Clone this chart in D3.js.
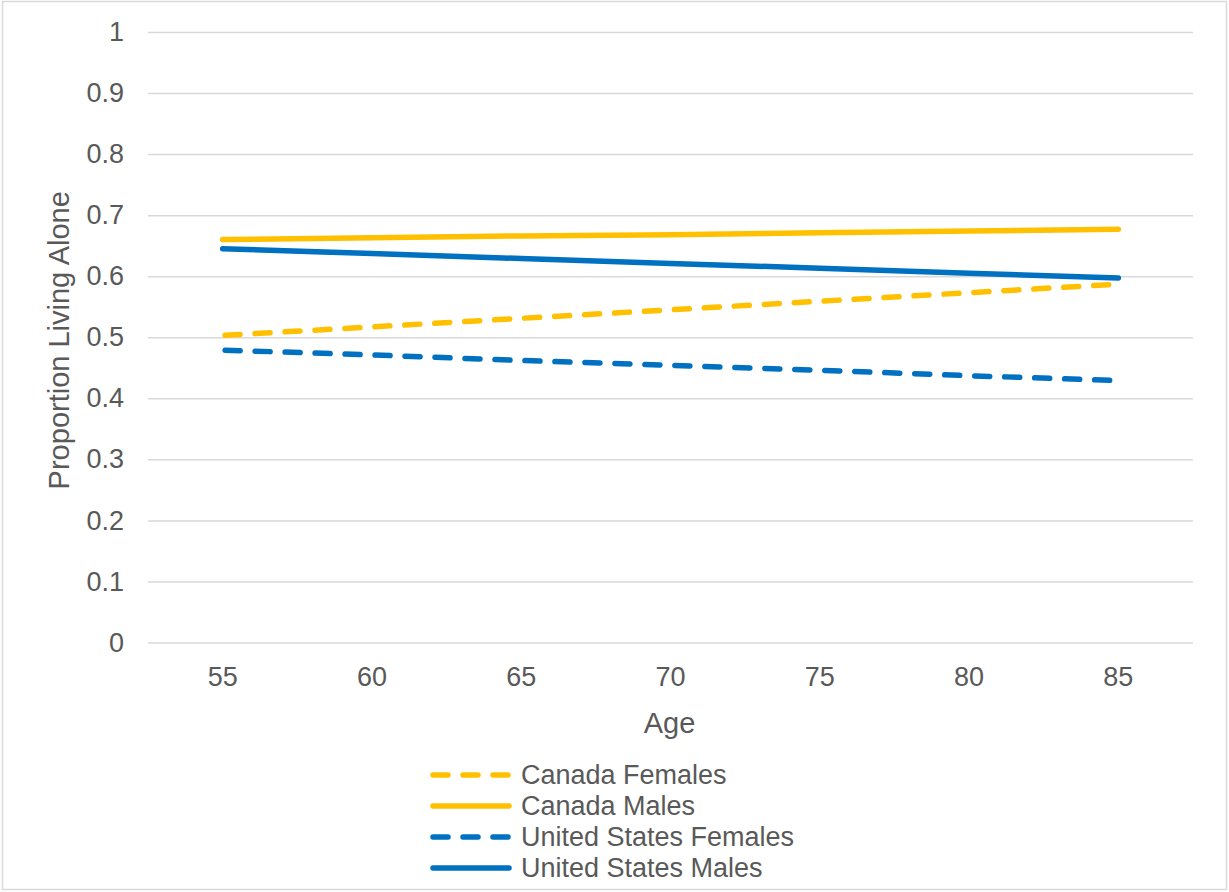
<!DOCTYPE html>
<html><head><meta charset="utf-8">
<script src="https://cdn.jsdelivr.net/npm/d3@7"></script>
<style>
html,body{margin:0;padding:0;background:#fff;}
svg text{font-family:"Liberation Sans",Arial,sans-serif;fill:#595959;}
</style></head>
<body>
<svg id="chart" width="1229" height="892"></svg>
<script>
const ages = [55, 60, 65, 70, 75, 80, 85];
const yTicks = [0, 0.1, 0.2, 0.3, 0.4, 0.5, 0.6, 0.7, 0.8, 0.9, 1];
const canadaFemales = [0.503, 0.517, 0.531, 0.545, 0.559, 0.573, 0.587];
const canadaMales = [0.660, 0.663, 0.666, 0.668, 0.671, 0.674, 0.677];
const usFemales = [0.479, 0.471, 0.462, 0.454, 0.446, 0.437, 0.429];
const usMales = [0.645, 0.637, 0.629, 0.621, 0.613, 0.605, 0.597];
const seriesNames = ["Canada Females", "Canada Males", "United States Females", "United States Males"];

(function () {
const series = [
  {name: seriesNames[0], values: canadaFemales, color: "#FFC000", dash: true},
  {name: seriesNames[1], values: canadaMales, color: "#FFC000", dash: false},
  {name: seriesNames[2], values: usFemales, color: "#0070C0", dash: true},
  {name: seriesNames[3], values: usMales, color: "#0070C0", dash: false}
];

const svg = d3.select("#chart");
svg.append("rect").attr("x", 2.5).attr("y", 1.5).attr("width", 1224).attr("height", 888)
  .attr("fill", "#fff").attr("stroke", "#D9D9D9").attr("stroke-width", 1.5);

const pLeft = 148, pRight = 1193, pTop = 32, pBottom = 642.5;
const x = d3.scaleBand().domain(ages).range([pLeft, pRight]);
const y = d3.scaleLinear().domain([0, 1]).range([pBottom, pTop]);

const yAxis = d3.axisLeft(y).tickValues(yTicks).tickSize(-(pRight - pLeft)).tickFormat(d => d3.format("~g")(d)).tickPadding(24);
const gy = svg.append("g").attr("transform", `translate(${pLeft},0)`).call(yAxis);
gy.select(".domain").remove();
gy.selectAll(".tick line").attr("stroke", "#D9D9D9").attr("stroke-width", 1.5);
gy.selectAll(".tick text").attr("font-size", 27).attr("fill", "#595959").attr("font-family", '"Liberation Sans",Arial,sans-serif');

const xAxis = d3.axisBottom(x).tickSize(0).tickPadding(24);
const gx = svg.append("g").attr("transform", `translate(0,${pBottom})`).call(xAxis);
gx.select(".domain").remove();
gx.selectAll(".tick text").attr("font-size", 27).attr("fill", "#595959").attr("font-family", '"Liberation Sans",Arial,sans-serif');

svg.append("text").attr("x", (pLeft + pRight) / 2 - 1).attr("y", 733).attr("text-anchor", "middle")
  .attr("font-size", 29).text("Age");
svg.append("text").attr("transform", `translate(69,${(pTop + pBottom) / 2 + 3}) rotate(-90)`)
  .attr("text-anchor", "middle").attr("font-size", 29).text("Proportion Living Alone");

const line = d3.line().x((d, i) => x(ages[i]) + x.bandwidth() / 2).y(d => y(d));
series.forEach(s => {
  svg.append("path").datum(s.values).attr("d", line).attr("fill", "none")
    .attr("stroke", s.color).attr("stroke-width", 5.5).attr("stroke-linecap", "round")
    .attr("stroke-dasharray", s.dash ? "15,15" : null).attr("stroke-dashoffset", s.dash ? -2.5 : null);
});

const legend = svg.append("g");
series.forEach((s, i) => {
  const yy = 775 + i * 31;
  legend.append("line").attr("x1", 433).attr("x2", 509).attr("y1", yy).attr("y2", yy)
    .attr("stroke", s.color).attr("stroke-width", 5.5).attr("stroke-linecap", "round")
    .attr("stroke-dasharray", s.dash ? "15,15" : null);
  legend.append("text").attr("x", 521).attr("y", yy).attr("dy", "0.35em")
    .attr("font-size", 27).text(s.name);
});
})();
</script>
</body></html>
